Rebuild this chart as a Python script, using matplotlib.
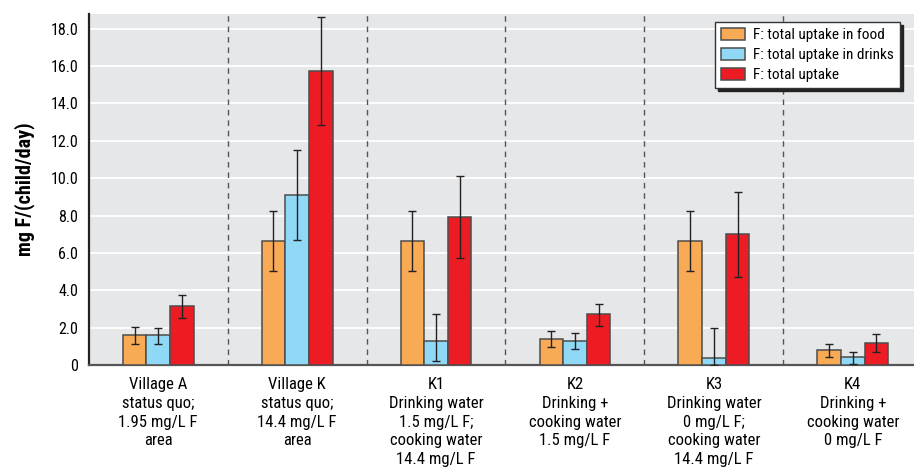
import matplotlib
matplotlib.use("Agg")
import matplotlib.pyplot as plt
import numpy as np

plt.rcParams['font.family'] = ['Roboto Condensed', 'Archivo Narrow', 'DejaVu Sans']

groups = [
    "Village A\nstatus quo;\n1.95 mg/L F\narea",
    "Village K\nstatus quo;\n14.4 mg/L F\narea",
    "K1\nDrinking water\n1.5 mg/L F;\ncooking water\n14.4 mg/L F",
    "K2\nDrinking +\ncooking water\n1.5 mg/L F",
    "K3\nDrinking water\n0 mg/L F;\ncooking water\n14.4 mg/L F",
    "K4\nDrinking +\ncooking water\n0 mg/L F",
]
series_names = ["F: total uptake in food", "F: total uptake in drinks", "F: total uptake"]

food = [1.62, 6.65, 6.65, 1.41, 6.65, 0.82]
food_lo = [0.50, 1.62, 1.62, 0.45, 1.62, 0.37]
food_hi = [0.43, 1.59, 1.58, 0.43, 1.58, 0.32]

drinks = [1.59, 9.10, 1.30, 1.30, 0.39, 0.41]
drinks_lo = [0.47, 2.39, 1.07, 0.44, 0.39, 0.34]
drinks_hi = [0.41, 2.39, 1.45, 0.41, 1.61, 0.30]

total = [3.17, 15.74, 7.94, 2.71, 7.01, 1.19]
total_lo = [0.65, 2.89, 2.19, 0.62, 2.28, 0.49]
total_hi = [0.59, 2.89, 2.16, 0.57, 2.27, 0.45]

colors = ["#F9AA55", "#8FD8F6", "#ED1C24"]
yticks = [0, 2, 4, 6, 8, 10, 12, 14, 16, 18]

fig = plt.figure(figsize=(9.14, 4.72), dpi=100)
ax = fig.add_axes([0.097, 0.2267, 0.903, 0.7436])
ax.set_facecolor("#E6E7E9")

x = np.arange(len(groups))
w = 0.17
data = [(food, food_lo, food_hi), (drinks, drinks_lo, drinks_hi), (total, total_lo, total_hi)]
for i, (vals, lo, hi) in enumerate(data):
    xs = x + (i - 1) * w
    ax.bar(xs, vals, width=w, color=colors[i], edgecolor="#4d4d4d", linewidth=1.1,
           label=series_names[i], zorder=3)
    ax.errorbar(xs, vals, yerr=[lo, hi], fmt="none", ecolor="#222222",
                elinewidth=1.0, capsize=3, capthick=1.0, zorder=4)

for b in x[:-1] + 0.5:
    ax.axvline(b, color="#555555", linestyle=(0, (4, 3.5)), linewidth=1.0, zorder=2)

ax.set_xlim(-0.50, 5.44)
ax.set_ylim(0, 18.79)
ax.set_yticks(yticks)
ax.set_yticklabels(["0"] + [f"{v:.1f}" for v in yticks[1:]], fontsize=11.5)
ax.yaxis.grid(True, color="white", linewidth=1.3, zorder=1)
ax.set_axisbelow(True)
ax.tick_params(axis="y", length=0, pad=7.5)
ax.set_xticks(x)
ax.set_xticklabels(groups, fontsize=12, linespacing=1.3)
ax.tick_params(axis="x", length=0, pad=9)

for s in ["top", "right"]:
    ax.spines[s].set_visible(False)
ax.spines["left"].set_color("#222222")
ax.spines["left"].set_linewidth(1.6)
ax.spines["bottom"].set_color("#555555")
ax.spines["bottom"].set_linewidth(1.6)

ax.set_ylabel("mg F/(child/day)", fontsize=14.5, fontweight="bold", labelpad=11)

leg = ax.legend(loc="upper right", bbox_to_anchor=(0.9865, 0.986), fontsize=11,
                frameon=True, fancybox=False, shadow={"color": "#222222", "alpha": 1.0},
                borderpad=0.4, labelspacing=0.35, handlelength=1.6, handleheight=0.85,
                handletextpad=0.5, borderaxespad=0.2)
leg.get_frame().set_edgecolor("#333333")
leg.get_frame().set_linewidth(1.0)
leg.set_zorder(10)

fig.savefig("out.png", dpi=100)
